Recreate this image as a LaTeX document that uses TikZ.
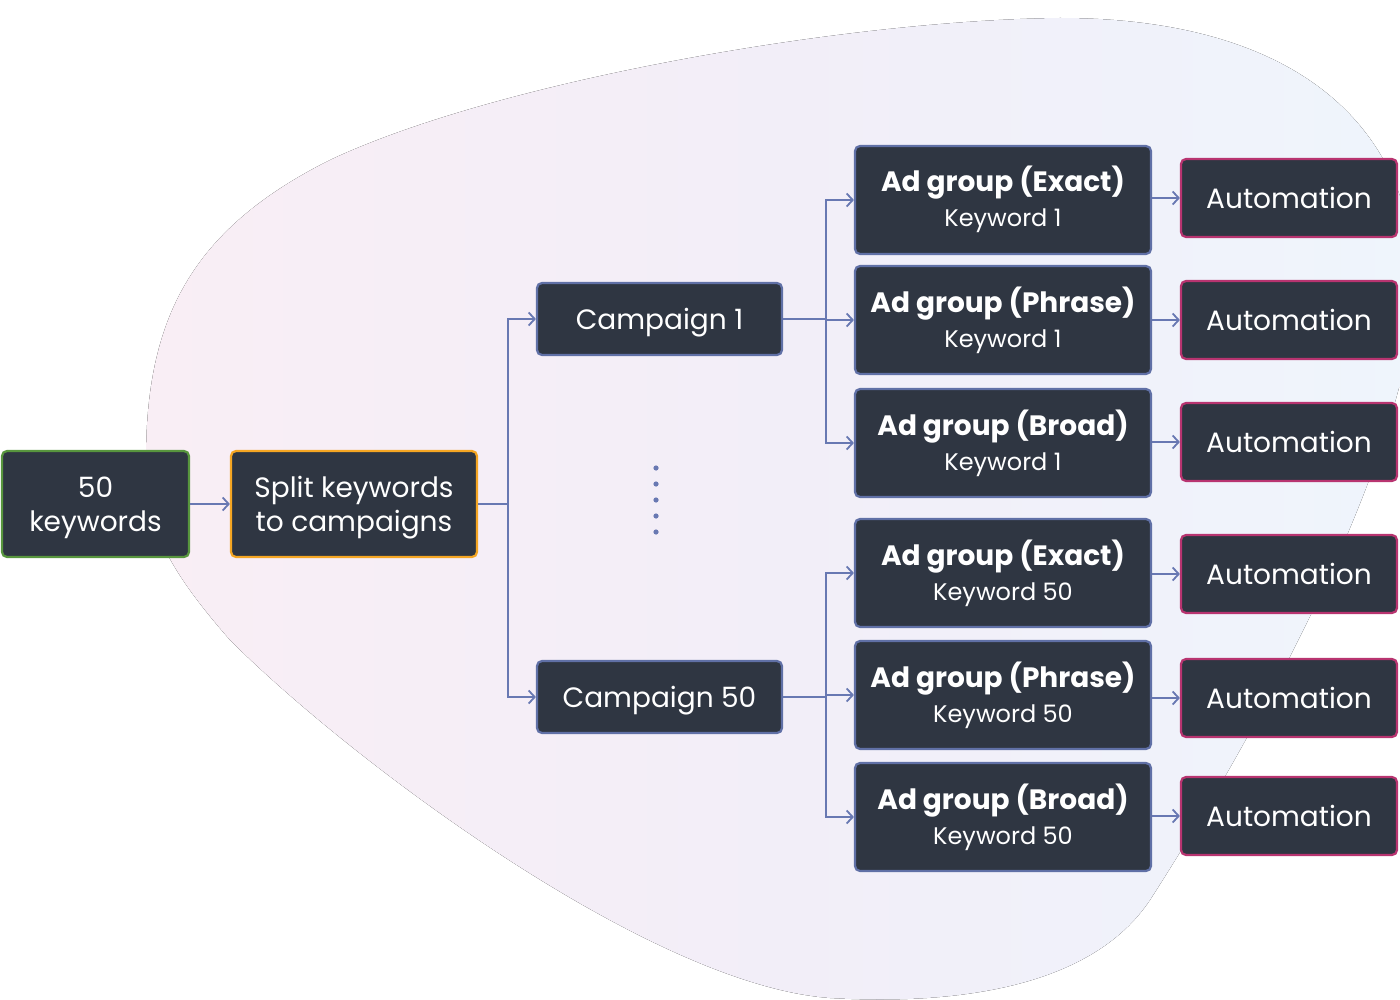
\documentclass[tikz,border=0pt]{standalone}
\usepackage{fontspec}
\setmainfont{Poppins}
\usetikzlibrary{arrows.meta}
\definecolor{cardfill}{RGB}{47,54,66}
\definecolor{linkblue}{RGB}{104,120,178}
\definecolor{edgegreen}{RGB}{88,150,62}
\definecolor{edgeorange}{RGB}{245,166,35}
\definecolor{edgeblue}{RGB}{96,112,166}
\definecolor{edgepink}{RGB}{184,52,112}
\definecolor{blobleft}{RGB}{249,238,245}
\definecolor{blobmid}{RGB}{242,238,248}
\definecolor{blobright}{RGB}{239,245,252}
\tikzset{card/.style={fill=cardfill, draw=edgeblue, line width=2.2pt, rounded corners=5pt, text=white, align=center, inner sep=0pt, text depth=0pt, font=\fontsize{28}{34}\selectfont},
  adgroup/.style={card, minimum width=296, minimum height=108, text height=54pt, font=\fontsize{28}{35}\selectfont},
  auto/.style={card, draw=edgepink, minimum width=216, minimum height=78},
  link/.style={draw=linkblue, line width=1.8pt, -{Straight Barb[length=6pt,width=13pt]}},
  pip/.style={fill=linkblue}}
\newcommand{\kwline}[1]{{\fontsize{24}{35}\selectfont #1}}

\begin{document}
\begin{tikzpicture}[x=1pt, y=-1pt]
      \useasboundingbox (0,0) rectangle (1400,1000);
      \def\agx{1003}
      \def\aux{1289}
      % background blob
      \fill [left color=blobleft, right color=blobright, middle color=blobmid]
        (146,460) .. controls (146,320) and (190,230) .. (330,160)
        .. controls (500,80) and (850,20) .. (1060,18)
        .. controls (1300,18) and (1420,130) .. (1415,300)
        .. controls (1400,480) and (1240,760) .. (1150,900)
        .. controls (1090,990) and (950,1005) .. (830,998)
        .. controls (650,985) and (350,760) .. (230,640)
        .. controls (160,560) and (146,520) .. (146,460) -- cycle;
      \node [card, draw=edgegreen, minimum width=187, minimum height=106] (kw) at (95.5,504) {50\\keywords};
      \node [card, draw=edgeorange, minimum width=246, minimum height=106] (split) at (354,504) {Split keywords\\to campaigns};
      \node [card, minimum width=245, minimum height=72] (camp1) at (659.5,319) {Campaign 1};
      \node [card, minimum width=245, minimum height=72] (camp50) at (659.5,697) {Campaign 50};
      \node [adgroup] (agE1) at (\agx,200) {\textbf{Ad group (Exact)}\\\kwline{Keyword 1}};
      \node [adgroup] (agP1) at (\agx,320) {\textbf{Ad group (Phrase)}\\\kwline{Keyword 1}};
      \node [adgroup] (agB1) at (\agx,443) {\textbf{Ad group (Broad)}\\\kwline{Keyword 1}};
      \node [adgroup] (agE50) at (\agx,573) {\textbf{Ad group (Exact)}\\\kwline{Keyword 50}};
      \node [adgroup] (agP50) at (\agx,695) {\textbf{Ad group (Phrase)}\\\kwline{Keyword 50}};
      \node [adgroup] (agB50) at (\agx,817) {\textbf{Ad group (Broad)}\\\kwline{Keyword 50}};
      \node [auto] (auE1) at (\aux,198) {Automation};
      \node [auto] (auP1) at (\aux,320) {Automation};
      \node [auto] (auB1) at (\aux,442) {Automation};
      \node [auto] (auE50) at (\aux,574) {Automation};
      \node [auto] (auP50) at (\aux,698) {Automation};
      \node [auto] (auB50) at (\aux,816) {Automation};
      \foreach \y in {468,484,500,516,532} {
        \fill [pip] (656,\y) circle (2.6);
      }
      \draw [link] (kw) -- (split);
      \foreach \c in {1,50} {
        \draw [link] (split.east) -- ++(30,0) |- (camp\c.west);
        \foreach \m in {E,P,B} {
          \draw [link] (camp\c.east) -- ++(43,0) |- (ag\m\c.west);
          \draw [link] (au\m\c.west -| ag\m\c.east) -- (au\m\c.west);
        }
      }
    \end{tikzpicture}
\end{document}
